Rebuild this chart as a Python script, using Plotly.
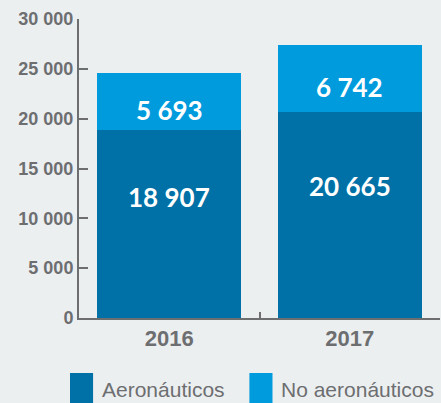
import plotly.graph_objects as go

years = ["2016", "2017"]
aeronauticos = [18907, 20665]
no_aeronauticos = [5693, 6742]
y_ticks = [0, 5000, 10000, 15000, 20000, 25000, 30000]

DARK = "#0071a6"
LIGHT = "#009bdd"
GREY = "#6d6e70"
BG = "#eceff0"


def fmt(v):
    return f"{v:,}".replace(",", " ")


fig = go.Figure()
fig.add_trace(go.Bar(x=years, y=aeronauticos, name="Aeronáuticos",
                     marker=dict(color=DARK, line=dict(width=0)), width=0.8))
fig.add_trace(go.Bar(x=years, y=no_aeronauticos, name="No aeronáuticos",
                     marker=dict(color=LIGHT, line=dict(width=0)), width=0.8))

# value labels inside the segments (x given as category index)
label_font = dict(family="Lato", size=26, color="white", weight="bold")
for i, (a, n) in enumerate(zip(aeronauticos, no_aeronauticos)):
    fig.add_annotation(x=i, y=a * 0.64, text=fmt(a), showarrow=False, font=label_font)
    fig.add_annotation(x=i, y=a + n / 2, yshift=-9, text=fmt(n), showarrow=False,
                       font=label_font)

# legend drawn by hand so the swatches are large squares
legend_items = [("Aeronáuticos", DARK, -0.025), ("No aeronáuticos", LIGHT, 0.472)]
for label, col, x0 in legend_items:
    fig.add_shape(type="rect", xref="paper", yref="paper",
                  x0=x0, x1=x0 + 0.064, y0=-0.184, y1=-0.30,
                  fillcolor=col, line=dict(width=0))
    fig.add_annotation(xref="paper", yref="paper", x=x0 + 0.082, y=-0.24,
                       xanchor="left", yanchor="middle", text=label, showarrow=False,
                       font=dict(family="Liberation Sans", size=21, color=GREY))

fig.update_layout(
    barmode="stack",
    width=441, height=403,
    margin=dict(l=79, r=1, t=19, b=85),
    paper_bgcolor=BG, plot_bgcolor=BG,
    showlegend=False,
    bargap=0.2,
    separators=", ",
)
fig.update_xaxes(
    type="category", range=[-0.5, 1.5],
    showline=True, linecolor=GREY, linewidth=2,
    ticks="inside", tickson="boundaries", ticklen=6, tickwidth=2, tickcolor=GREY,
    showgrid=False,
    tickfont=dict(family="Liberation Sans", size=22, color=GREY, weight="bold"),
)
fig.update_yaxes(
    range=[0, 30000], tickvals=y_ticks, tickformat=",d",
    showline=True, linecolor=GREY, linewidth=2,
    ticks="inside", ticklen=9, tickwidth=2, tickcolor=GREY,
    showgrid=False, zeroline=False,
    tickfont=dict(family="Liberation Sans", size=18, color=GREY, weight="bold"),
)

fig.write_html("out.html", config={"displayModeBar": False},
               post_script="document.body.style.margin='0';")
